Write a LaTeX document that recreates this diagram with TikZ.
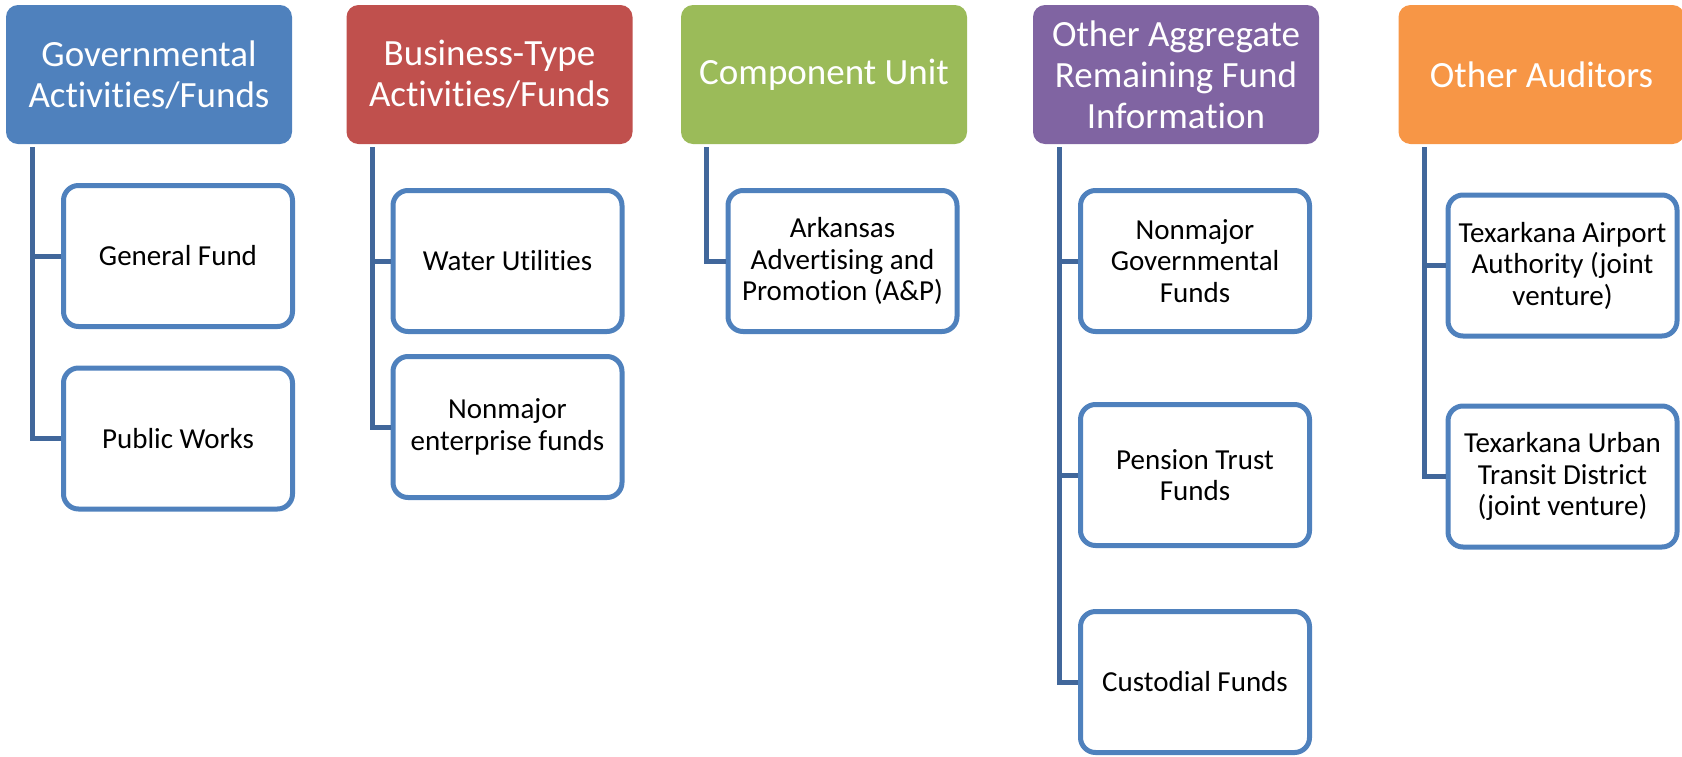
\documentclass[tikz,border=0pt]{standalone}
\usepackage{fontspec}
\setmainfont{Carlito}[RawFeature={-liga;-clig;-calt;-dlig}]
\definecolor{accblue}{HTML}{4F81BD}
\definecolor{accred}{HTML}{C0504D}
\definecolor{accgreen}{HTML}{9BBB59}
\definecolor{accpurple}{HTML}{8064A2}
\definecolor{accorange}{HTML}{F79646}
\definecolor{connblue}{HTML}{41679B}
\tikzset{
  hdr/.style={rectangle, rounded corners=12pt, fill=#1, draw=none,
    minimum width=286pt, minimum height=139pt, inner sep=0pt,
    text=white, align=center, font=\fontsize{37}{41}\selectfont},
  leaf/.style={rectangle, rounded corners=15pt, fill=white, draw=accblue,
    line width=5pt, minimum width=229pt, minimum height=141pt, inner sep=0pt,
    text=black, align=center, font=\fontsize{29}{31.5}\selectfont},
  conn/.style={draw=connblue, line width=5pt, line join=miter}
}
\begin{document}
\begin{tikzpicture}[x=1pt,y=-1pt]
\useasboundingbox (0,0) rectangle (1682,756);

% column headers
\node[hdr=accblue]   (h1) at (149,74.5)    {Governmental\\Activities/Funds};
\node[hdr=accred]    (h2) at (489.5,74.5)  {Business-Type\\Activities/Funds};
\node[hdr=accgreen]  (h3) at (824,74.5)    {Component Unit};
\node[hdr=accpurple] (h4) at (1176,74.5)   {Other Aggregate\\Remaining Fund\\Information};
\node[hdr=accorange] (h5) at (1541.5,74.5) {Other Auditors};

% items under each header
\node[leaf] (a1) at (178,256)    {General Fund};
\node[leaf] (a2) at (178,438.5)  {Public Works};
\node[leaf] (b1) at (507.5,261)  {Water Utilities};
\node[leaf] (b2) at (507.5,427)  {Nonmajor\\enterprise funds};
\node[leaf] (c1) at (842.5,261)  {Arkansas\\Advertising and\\Promotion (A\&P)};
\node[leaf] (d1) at (1195,261)   {Nonmajor\\Governmental\\Funds};
\node[leaf] (d2) at (1195,475)   {Pension Trust\\Funds};
\node[leaf] (d3) at (1195,682)   {Custodial Funds};
\node[leaf] (e1) at (1562.5,265.5) {Texarkana Airport\\Authority (joint\\venture)};
\node[leaf] (e2) at (1562.5,476.5) {Texarkana Urban\\Transit District\\(joint venture)};

% tree connectors
\draw[conn] ([xshift=27pt,yshift=-3pt]h1.south west) |- (a1.west);
\draw[conn] ([xshift=27pt,yshift=-3pt]h1.south west) |- (a2.west);
\draw[conn] ([xshift=26pt,yshift=-3pt]h2.south west) |- (b1.west);
\draw[conn] ([xshift=26pt,yshift=-3pt]h2.south west) |- (b2.west);
\draw[conn] ([xshift=26pt,yshift=-3pt]h3.south west) |- (c1.west);
\draw[conn] ([xshift=27pt,yshift=-3pt]h4.south west) |- (d1.west);
\draw[conn] ([xshift=27pt,yshift=-3pt]h4.south west) |- (d2.west);
\draw[conn] ([xshift=27pt,yshift=-3pt]h4.south west) |- (d3.west);
\draw[conn] ([xshift=26pt,yshift=-3pt]h5.south west) |- (e1.west);
\draw[conn] ([xshift=26pt,yshift=-3pt]h5.south west) |- (e2.west);
\end{tikzpicture}
\end{document}
